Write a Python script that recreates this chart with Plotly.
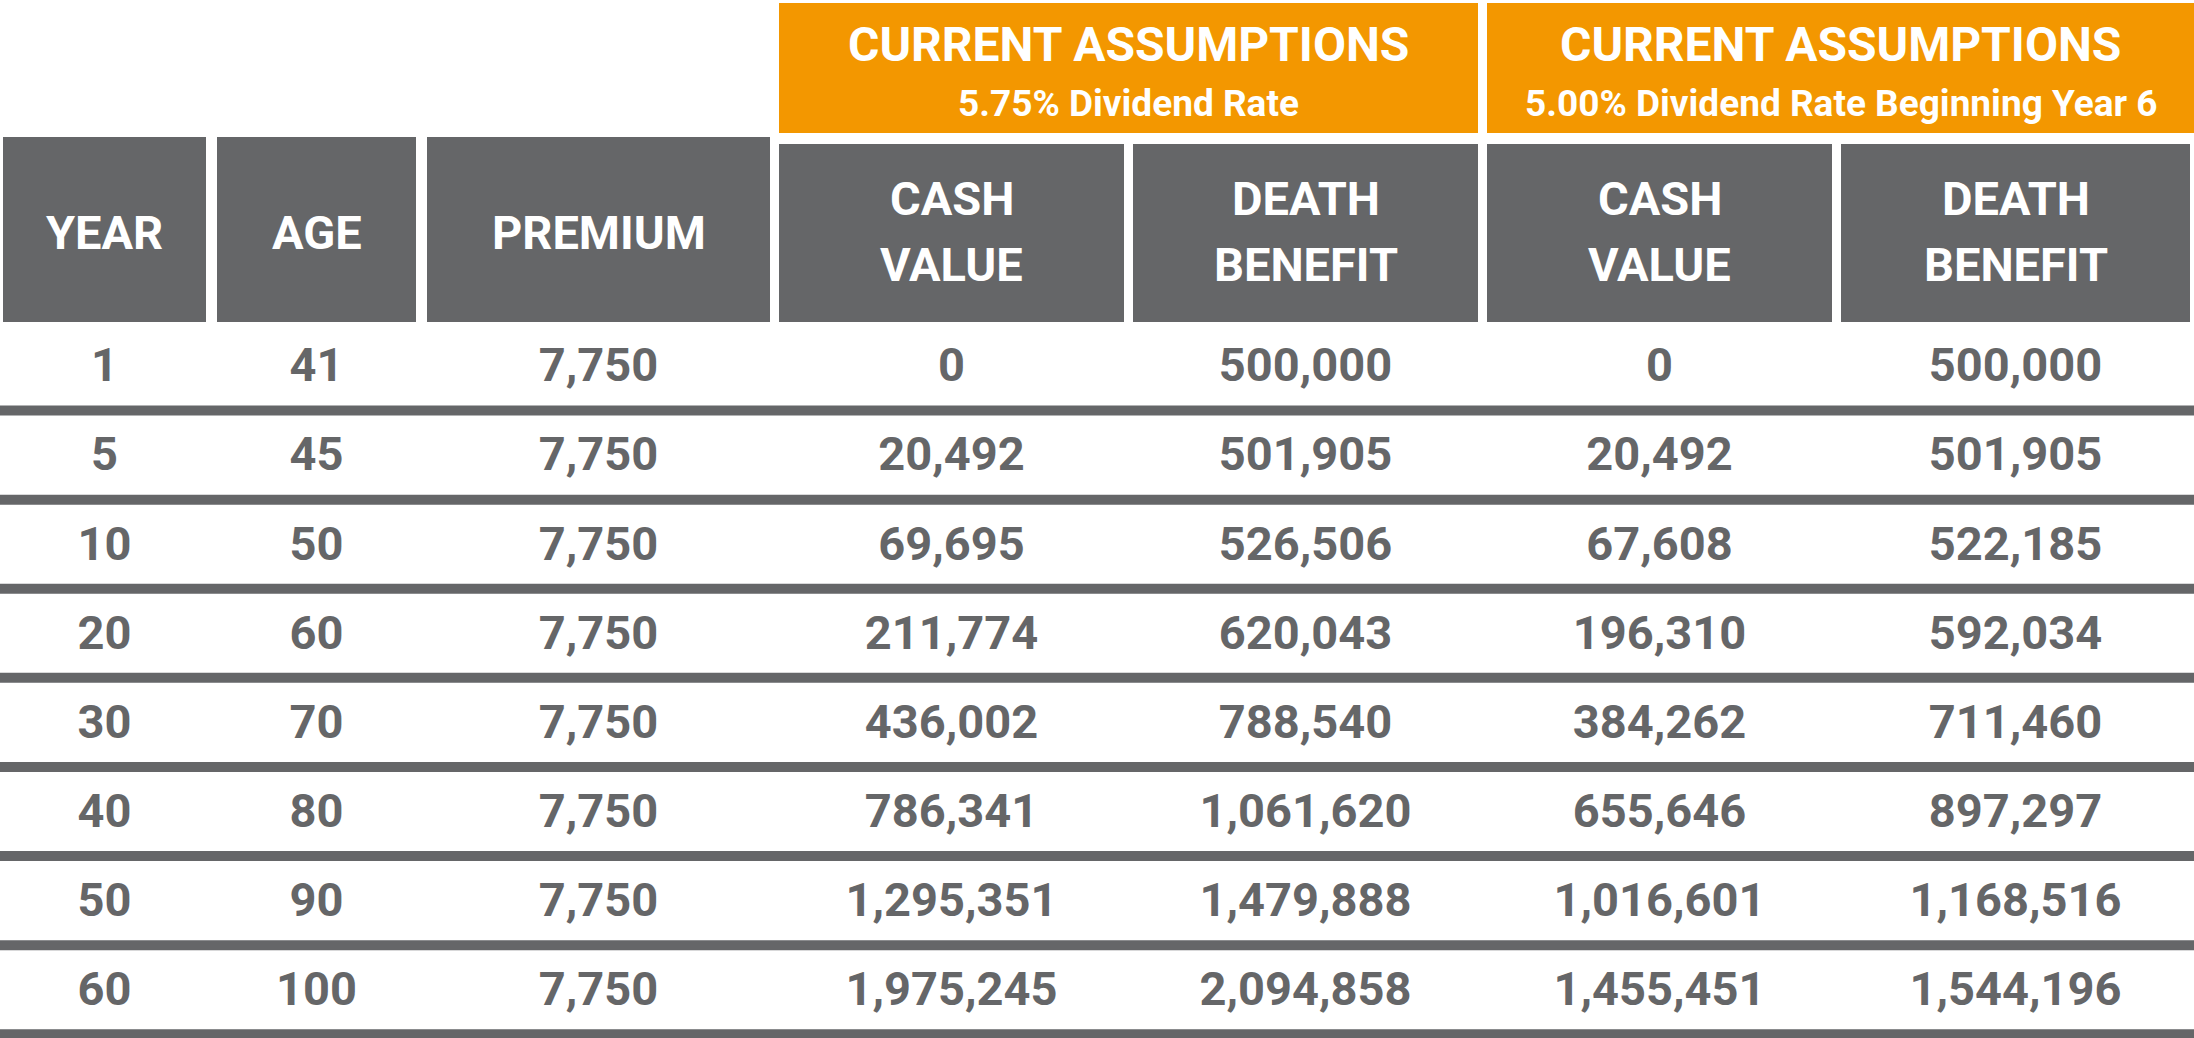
import plotly.graph_objects as go

# ---------------- data ----------------
years = [1, 5, 10, 20, 30, 40, 50, 60]
ages = [41, 45, 50, 60, 70, 80, 90, 100]
premium = [7750, 7750, 7750, 7750, 7750, 7750, 7750, 7750]
cash_575 = [0, 20492, 69695, 211774, 436002, 786341, 1295351, 1975245]
death_575 = [500000, 501905, 526506, 620043, 788540, 1061620, 1479888, 2094858]
cash_500 = [0, 20492, 67608, 196310, 384262, 655646, 1016601, 1455451]
death_500 = [500000, 501905, 522185, 592034, 711460, 897297, 1168516, 1544196]

col_headers = ["YEAR", "AGE", "PREMIUM", "CASH<br>VALUE", "DEATH<br>BENEFIT",
               "CASH<br>VALUE", "DEATH<br>BENEFIT"]
group_titles = ["CURRENT ASSUMPTIONS", "CURRENT ASSUMPTIONS"]
group_subtitles = ["5.75% Dividend Rate", "5.00% Dividend Rate Beginning Year 6"]

columns = [years, ages, premium, cash_575, death_575, cash_500, death_500]

# ---------------- layout / style ----------------
W, H = 2194, 1038
GREY = "#656668"
ORANGE = "#F39700"
FONT = "Roboto"

COL_EDGES = [(3, 206), (217, 416), (427, 770), (779, 1124), (1133, 1478),
             (1487, 1832), (1841, 2190)]
GROUP_EDGES = [(779, 1478), (1487, 2194)]

ROW0_PX = 366.0
ROW_PX = 89.1
TEXT_SHIFT = 0.04


def row_of(px):
    return (px - ROW0_PX) / ROW_PX


fig = go.Figure()
shapes = []
annotations = []

# orange group headers
for (x0, x1), t, s in zip(GROUP_EDGES, group_titles, group_subtitles):
    shapes.append(dict(type="rect", xref="x", yref="y", x0=x0, x1=x1,
                       y0=row_of(3), y1=row_of(133), fillcolor=ORANGE,
                       line=dict(width=0), layer="below"))
    annotations.append(dict(x=(x0 + x1) / 2, y=row_of(44), xref="x", yref="y",
                            text=t, showarrow=False,
                            font=dict(family=FONT, size=48, color="white",
                                      weight="bold")))
    annotations.append(dict(x=(x0 + x1) / 2, y=row_of(103), xref="x", yref="y",
                            text=s, showarrow=False,
                            font=dict(family=FONT, size=37, color="white",
                                      weight="bold")))

# grey column headers
for i, ((x0, x1), h) in enumerate(zip(COL_EDGES, col_headers)):
    top = 137 if i < 3 else 144
    shapes.append(dict(type="rect", xref="x", yref="y", x0=x0, x1=x1,
                       y0=row_of(top), y1=row_of(322), fillcolor=GREY,
                       line=dict(width=0), layer="below"))
    parts = h.split("<br>")
    ys = [232] if len(parts) == 1 else [198, 264]
    for part, yp in zip(parts, ys):
        annotations.append(dict(x=(x0 + x1) / 2, y=row_of(yp), xref="x",
                                yref="y", text=part, showarrow=False,
                                font=dict(family=FONT, size=47, color="white",
                                          weight="bold")))

# row separator lines
n_rows = len(years)
for r in range(n_rows):
    shapes.append(dict(type="line", xref="x", yref="y", x0=0, x1=W,
                       y0=r + 0.5, y1=r + 0.5,
                       line=dict(color=GREY, width=10), layer="below"))

# data cells
for (x0, x1), vals in zip(COL_EDGES, columns):
    fig.add_trace(go.Scatter(
        x=[(x0 + x1) / 2] * len(vals),
        y=[r + TEXT_SHIFT for r in range(len(vals))],
        mode="text",
        text=[f"{v:,}" for v in vals],
        textposition="middle center",
        textfont=dict(family=FONT, size=47, color=GREY, weight="bold"),
        hoverinfo="skip",
        showlegend=False,
    ))

fig.update_layout(
    width=W, height=H,
    margin=dict(l=0, r=0, t=0, b=0),
    paper_bgcolor="white", plot_bgcolor="white",
    shapes=shapes, annotations=annotations,
    xaxis=dict(range=[0, W], visible=False, fixedrange=True),
    yaxis=dict(range=[row_of(H), row_of(0)], visible=False, fixedrange=True),
    showlegend=False,
)

fig.write_html("out.html", config={"displayModeBar": False},
               post_script="document.body.style.margin='0';"
                           "document.body.style.overflow='hidden';")
